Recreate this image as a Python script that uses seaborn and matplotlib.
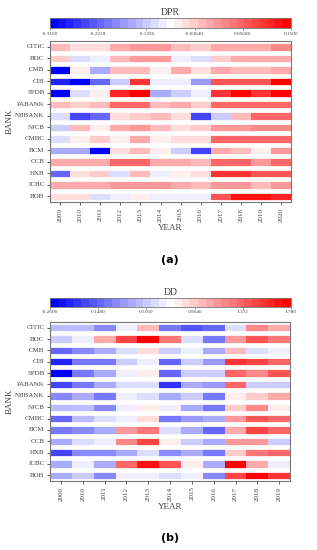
import numpy as np
import pandas as pd
import matplotlib
matplotlib.use("Agg")
import matplotlib.pyplot as plt
import seaborn as sns
from matplotlib.ticker import FormatStrFormatter

# Data
banks = ["CITIC", "BOC", "CMB", "CIB", "SPDB", "PABANK", "NBBANK",
         "NJCB", "CMBC", "BCM", "CCB", "HXB", "ICBC", "BOB"]
years_a = [str(y) for y in range(2009, 2021)]
years_b = [str(y) for y in range(2009, 2020)]

dpr = [
    [-0.020, -0.050, -0.050, -0.013, 0.005, 0.005, -0.020, -0.040, -0.008, -0.008, -0.008, 0.015],
    [-0.040, -0.118, -0.095, -0.020, 0.005, 0.005, -0.095, -0.118, -0.040, -0.008, -0.008, -0.008],
    [-0.316, -0.071, -0.153, -0.020, -0.020, -0.071, -0.008, -0.050, -0.008, -0.020, -0.020, -0.008],
    [-0.281, -0.316, -0.211, -0.130, 0.103, -0.095, -0.095, -0.176, 0.068, 0.068, 0.068, 0.150],
    [-0.316, -0.118, -0.071, 0.115, 0.138, -0.165, -0.130, -0.095, 0.092, 0.138, 0.092, 0.150],
    [-0.020, -0.040, -0.020, 0.045, 0.045, -0.020, -0.008, -0.040, 0.045, 0.057, 0.045, 0.045],
    [-0.106, -0.246, -0.211, -0.050, -0.040, -0.020, -0.050, -0.246, -0.130, -0.030, 0.057, 0.057],
    [-0.130, -0.020, -0.071, -0.008, 0.005, -0.020, -0.050, -0.040, 0.005, 0.005, 0.015, 0.015],
    [-0.106, -0.071, -0.040, -0.071, -0.008, -0.071, -0.050, -0.060, 0.045, 0.045, 0.057, 0.057],
    [-0.165, -0.153, -0.304, -0.050, -0.020, -0.071, -0.130, -0.246, -0.008, -0.020, -0.071, 0.005],
    [-0.008, -0.008, -0.008, 0.057, 0.057, -0.008, -0.008, -0.020, 0.057, 0.057, 0.005, 0.057],
    [-0.211, -0.050, -0.040, -0.118, -0.030, -0.095, -0.071, -0.050, 0.092, 0.092, 0.068, 0.068],
    [-0.008, -0.008, -0.008, 0.005, 0.005, 0.005, -0.008, -0.030, 0.005, 0.005, -0.020, 0.005],
    [-0.050, -0.050, -0.118, -0.095, -0.071, -0.095, -0.095, -0.095, 0.068, 0.127, 0.127, 0.115],
]

dd = [
    [0.505, 0.505, 0.301, 0.709, 1.015, 0.250, 0.097, 0.199, 0.607, 1.219, 1.117],
    [0.556, 0.709, 1.066, 1.474, 1.780, 1.270, 0.658, 0.250, 1.168, 1.423, 1.270],
    [0.148, 0.301, 0.454, 0.658, 0.913, 0.556, 0.709, 0.454, 1.015, 0.607, 0.709],
    [-0.107, 0.250, 0.250, 0.556, 0.709, 0.199, 0.556, 0.352, 1.525, 1.474, 1.321],
    [-0.260, 0.250, 0.403, 0.709, 0.811, 0.199, 0.556, 0.556, 1.321, 1.219, 1.423],
    [0.046, 0.250, 0.403, 0.607, 0.607, -0.056, 0.403, 0.352, 1.321, 0.556, 0.556],
    [0.301, 0.403, 0.250, 0.709, 0.607, 0.403, 0.556, 0.250, 0.811, 0.964, 1.066],
    [0.505, 0.505, 0.301, 0.709, 0.811, 0.709, 0.454, 0.250, 0.964, 1.219, 0.811],
    [0.199, 0.505, 0.607, 0.709, 0.913, 0.250, 0.352, 0.403, 1.168, 1.423, 1.372],
    [0.250, 0.301, 0.454, 1.168, 1.270, 0.607, 0.403, 0.148, 1.066, 1.474, 1.321],
    [0.403, 0.607, 0.709, 1.219, 1.474, 0.811, 0.556, 0.403, 1.168, 1.168, 0.556],
    [0.046, 0.301, 0.301, 0.454, 0.607, 0.301, 0.403, 0.250, 0.964, 1.270, 1.372],
    [0.454, 0.709, 0.454, 1.372, 1.678, 1.423, 0.811, 0.454, 1.729, 1.066, 0.709],
    [0.403, 0.556, 0.301, 0.709, 0.709, 0.607, 0.709, 0.301, 1.474, 1.780, 1.576],
]

dpr_range = (-0.316, 0.150)
dd_range = (-0.260, 1.780)

plt.rcParams["font.family"] = ["Liberation Serif", "DejaVu Serif"]
cmap = plt.get_cmap("bwr", 31)

fig = plt.figure(figsize=(3.17, 5.5), dpi=100)


def panel(data, years, title, vrange, hm_rect, cb_rect, tag, tag_y):
    df = pd.DataFrame(data, index=banks, columns=years)
    ax = fig.add_axes(hm_rect)
    cax = fig.add_axes(cb_rect)
    sns.heatmap(df, cmap=cmap, vmin=vrange[0], vmax=vrange[1], ax=ax,
                cbar_ax=cax, cbar_kws={"orientation": "horizontal"})
    # white gaps between rows
    for i in range(len(banks) + 1):
        ax.axhline(i, color="white", lw=3.4)
    for s in ax.spines.values():
        s.set_visible(True)
        s.set_color("#777777")
        s.set_linewidth(0.8)
    ax.set_xticks(np.arange(len(years)) + 0.5)
    ax.set_xticklabels(years, rotation=90, fontsize=5, color="#444444")
    ax.set_yticks(np.arange(len(banks)) + 0.5)
    ax.set_yticklabels(banks, rotation=0, fontsize=5, color="#444444")
    ax.tick_params(length=2.5, width=0.6, color="#444444", pad=1.5)
    ax.set_xlabel("YEAR", fontsize=6.5, color="#444444", labelpad=2)
    ax.set_ylabel("BANK", fontsize=6.5, color="#444444", labelpad=1)

    ticks = np.linspace(vrange[0], vrange[1], 6)
    cax.xaxis.set_ticks(ticks)
    cax.xaxis.set_major_formatter(FormatStrFormatter("%#.4g"))
    cax.tick_params(labelsize=3.8, length=1.5, width=0.4, pad=1, colors="#444444")
    cax.set_title(title, fontsize=7, color="#444444", pad=2)
    cb = ax.collections[0].colorbar
    cb.outline.set_edgecolor("#777777")
    cb.outline.set_linewidth(0.6)

    fig.text(0.537, tag_y, tag, ha="center", va="center", fontsize=8,
             fontweight="bold", family="DejaVu Sans")


panel(dpr, years_a, "DPR", dpr_range,
      [0.158, 0.6327, 0.760, 0.2927], [0.158, 0.949, 0.760, 0.018],
      "(a)", 1 - 260 / 550)
panel(dd, years_b, "DD", dd_range,
      [0.158, 0.1255, 0.757, 0.289], [0.158, 0.4418, 0.760, 0.0164],
      "(b)", 1 - 538 / 550)

fig.savefig("out.png", dpi=100)
